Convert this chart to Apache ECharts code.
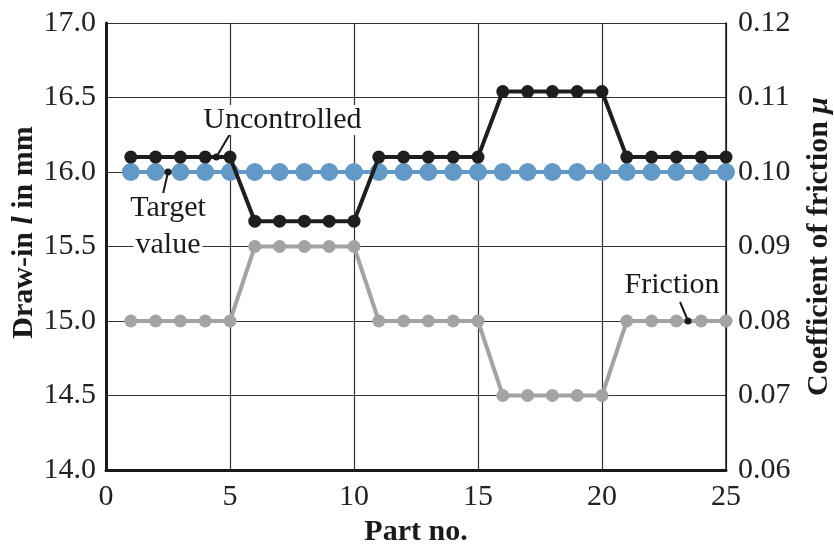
<!DOCTYPE html>
<html>
<head>
<meta charset="utf-8">
<script src="https://cdn.jsdelivr.net/npm/echarts@6/dist/echarts.min.js"></script>
<style>
html,body{margin:0;padding:0;background:#fff;}
#chart{width:834px;height:546px;}
</style>
</head>
<body>
<div id="chart"></div>
<script>
var parts = [1,2,3,4,5,6,7,8,9,10,11,12,13,14,15,16,17,18,19,20,21,22,23,24,25];
var uncontrolled = [16.1,16.1,16.1,16.1,16.1,15.67,15.67,15.67,15.67,15.67,16.1,16.1,16.1,16.1,16.1,16.54,16.54,16.54,16.54,16.54,16.1,16.1,16.1,16.1,16.1];
var target = [16.0,16.0,16.0,16.0,16.0,16.0,16.0,16.0,16.0,16.0,16.0,16.0,16.0,16.0,16.0,16.0,16.0,16.0,16.0,16.0,16.0,16.0,16.0,16.0,16.0];
var friction = [0.08,0.08,0.08,0.08,0.08,0.09,0.09,0.09,0.09,0.09,0.08,0.08,0.08,0.08,0.08,0.07,0.07,0.07,0.07,0.07,0.08,0.08,0.08,0.08,0.08];
var xTicks = [0,5,10,15,20,25];
var leftTicks = ['14.0','14.5','15.0','15.5','16.0','16.5','17.0'];
var rightTicks = ['0.06','0.07','0.08','0.09','0.10','0.11','0.12'];

function pairs(vals){ return parts.map(function(p,i){ return [p, vals[i]]; }); }

var FONT = '"Liberation Serif", "Times New Roman", serif';
var chart = echarts.init(document.getElementById('chart'));
var option = {
  backgroundColor: '#fff',
  animation: false,
  grid: {left: 106, right: 108, top: 23, bottom: 76, containLabel: false, outerBoundsMode: 'none'},
  xAxis: {
    type: 'value', min: 0, max: 25, interval: 5,
    name: 'Part no.', nameLocation: 'middle', nameGap: 47,
    nameTextStyle: {fontFamily: FONT, fontSize: 30, fontWeight: 'bold', color: '#1a1a1a'},
    axisLine: {show: true, onZero: false, lineStyle: {color: '#1a1a1a', width: 3}},
    axisTick: {show: false},
    axisLabel: {fontFamily: FONT, fontSize: 30, color: '#222', margin: 12,
      formatter: function(v){ return xTicks.indexOf(v) >= 0 ? String(v) : ''; }},
    splitLine: {show: true, lineStyle: {color: '#333', width: 1.2}}
  },
  yAxis: [{
    type: 'value', min: 14, max: 17, interval: 0.5, position: 'left',
    name: '{b|Draw-in }{i|l}{b| in mm}', nameLocation: 'middle', nameGap: 67, nameRotate: 90,
    nameMoveOverlap: false,
    nameTextStyle: {padding: [0, 0, 0, 28], rich: {
      b: {fontFamily: FONT, fontSize: 30, fontWeight: 'bold', color: '#1a1a1a'},
      i: {fontFamily: FONT, fontSize: 30, fontWeight: 'bold', fontStyle: 'italic', color: '#1a1a1a'}
    }},
    axisLine: {show: true, onZero: false, lineStyle: {color: '#1a1a1a', width: 3}},
    axisTick: {show: false},
    axisLabel: {fontFamily: FONT, fontSize: 30, color: '#222', margin: 10,
      formatter: function(v){ return leftTicks[Math.round((v - 14) / 0.5)]; }},
    splitLine: {show: true, lineStyle: {color: '#333', width: 1.2}}
  }, {
    type: 'value', min: 0.06, max: 0.12, interval: 0.01, position: 'right',
    name: '{b|Coefficient of friction }{i|μ}', nameLocation: 'middle', nameGap: 78, nameRotate: 90,
    nameMoveOverlap: false,
    nameTextStyle: {rich: {
      b: {fontFamily: FONT, fontSize: 30, fontWeight: 'bold', color: '#1a1a1a'},
      i: {fontFamily: FONT, fontSize: 30, fontWeight: 'bold', fontStyle: 'italic', color: '#1a1a1a'}
    }},
    axisLine: {show: true, onZero: false, lineStyle: {color: '#1a1a1a', width: 1.5}},
    axisTick: {show: false},
    axisLabel: {fontFamily: FONT, fontSize: 30, color: '#222', margin: 12,
      formatter: function(v){ return rightTicks[Math.round((v - 0.06) / 0.01)]; }},
    splitLine: {show: false}
  }],
  series: [{
    name: 'Target value', type: 'line', yAxisIndex: 0, data: pairs(target),
    symbol: 'circle', symbolSize: 18, z: 2,
    lineStyle: {color: '#6299c6', width: 4}, itemStyle: {color: '#6299c6'}
  }, {
    name: 'Friction', type: 'line', yAxisIndex: 1, data: pairs(friction),
    symbol: 'circle', symbolSize: 13, z: 3,
    lineStyle: {color: '#a3a3a3', width: 4}, itemStyle: {color: '#a3a3a3'}
  }, {
    name: 'Uncontrolled', type: 'line', yAxisIndex: 0, data: pairs(uncontrolled),
    symbol: 'circle', symbolSize: 13, z: 4,
    lineStyle: {color: '#1e1e1e', width: 4}, itemStyle: {color: '#1e1e1e'}
  }]
};
chart.setOption(option);

// annotations anchored to data positions
var aU = chart.convertToPixel({xAxisIndex: 0, yAxisIndex: 0}, [4.45, 16.1]);
var aT = chart.convertToPixel({xAxisIndex: 0, yAxisIndex: 0}, [2.5, 16.0]);
var aF = chart.convertToPixel({xAxisIndex: 0, yAxisIndex: 1}, [23.47, 0.08]);

function label(txt, x, y){
  return {type: 'text', x: x, y: y, z: 100,
    style: {text: txt, fontFamily: FONT, fontSize: 30, fill: '#1a1a1a',
      align: 'center', verticalAlign: 'middle', backgroundColor: '#fff', padding: [0, 2]}};
}
function leader(a, dx, dy){
  return [{type: 'line', z: 100, shape: {x1: a[0], y1: a[1], x2: a[0] + dx, y2: a[1] + dy},
      style: {stroke: '#1a1a1a', lineWidth: 2}},
    {type: 'circle', z: 101, shape: {cx: a[0], cy: a[1], r: 3.5}, style: {fill: '#1a1a1a'}}];
}
var g = [];
g = g.concat(leader(aU, 13, -22));
g.push(label('Uncontrolled', aU[0] + 66, aU[1] - 37));
g = g.concat(leader(aT, -5, 22));
g.push(label('Target', aT[0], aT[1] + 36));
g.push(label('value', aT[0], aT[1] + 73));
g = g.concat(leader(aF, -8, -19));
g.push(label('Friction', aF[0] - 16, aF[1] - 36));
chart.setOption({graphic: g});
</script>
</body>
</html>
